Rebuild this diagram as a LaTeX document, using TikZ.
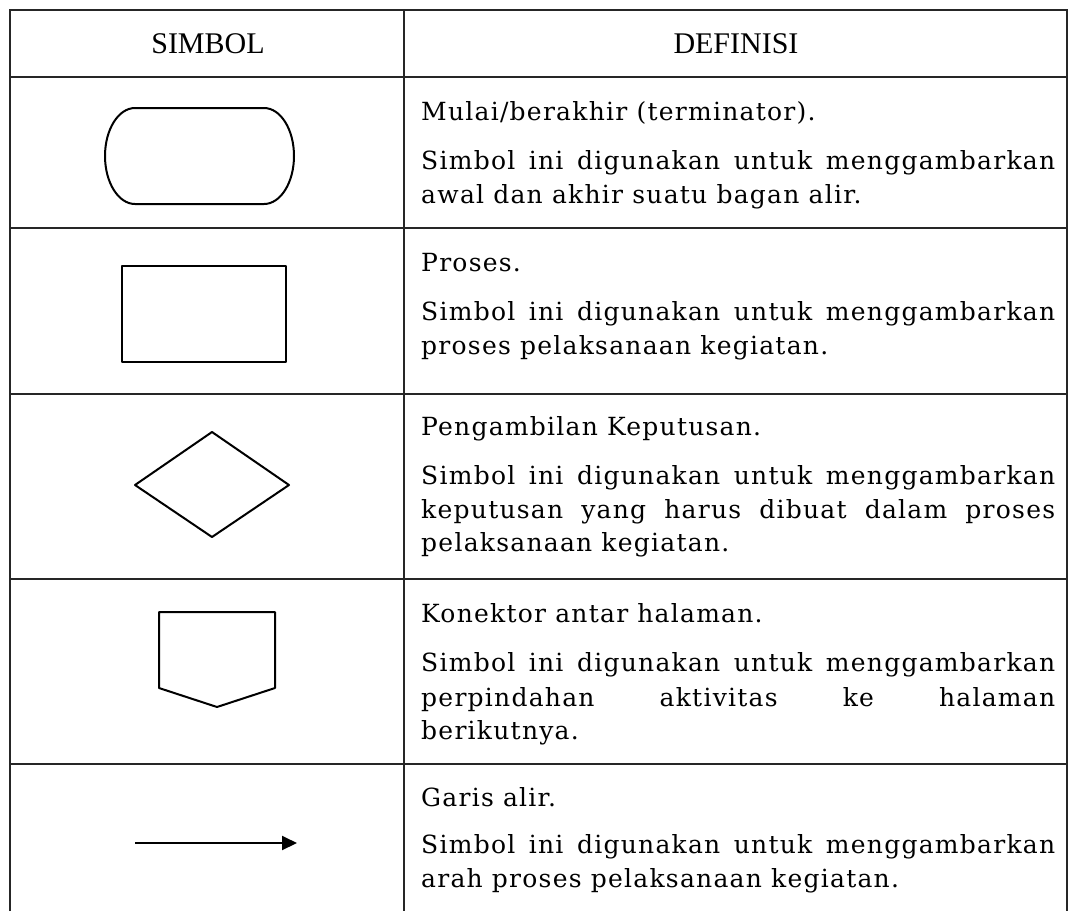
\documentclass[tikz,border=0pt]{standalone}
\usepackage{fontspec}
\setmainfont[LetterSpace=5]{DejaVu Serif}
\newfontfamily\headfont{Liberation Serif}
\usetikzlibrary{arrows.meta}
\newcommand\fulline[1]{\makebox[634pt][s]{#1}}
\begin{document}
\begin{tikzpicture}[x=1pt,y=-1pt,
  body/.style={anchor=base west, inner sep=0pt, font=\fontsize{25}{30}\selectfont},
  head/.style={inner sep=0pt, font=\headfont\fontsize{30}{36}\selectfont},
  rulel/.style={line width=1.5pt, draw=black!85},
  sym/.style={line width=2pt, line join=round}]
\useasboundingbox (0,0) rectangle (1069,911);
% table frame
\draw[rulel] (10,911) -- (10,10) -- (1067,10) -- (1067,911);
\draw[rulel] (404,10) -- (404,911);
\foreach \yy in {77,228,394,579,764} \draw[rulel] (10,\yy) -- (1067,\yy);
% headers
\node[head] (hs) at (208,44) {SIMBOL};
\node[head] (hd) at (736,44) {DEFINISI};
% row 1
\draw[sym] (135,108) -- (264,108) arc (-90:90:30 and 48) -- (135,204) arc (90:270:30 and 48) -- cycle;
\node[body] (t1a) at (421,120) {Mulai/berakhir (terminator).};
\node[body] (t1b) at (421,169) {\fulline{Simbol ini digunakan untuk menggambarkan}};
\node[body] (t1c) at (421,203) {awal dan akhir suatu bagan alir.};
% row 2
\draw[sym] (122,266) rectangle (286,362);
\node[body] (t2a) at (421,271) {Proses.};
\node[body] (t2b) at (421,320) {\fulline{Simbol ini digunakan untuk menggambarkan}};
\node[body] (t2c) at (421,354) {proses pelaksanaan kegiatan.};
% row 3
\draw[sym] (135,485) -- (212,432) -- (289,485) -- (212,537) -- cycle;
\node[body] (t3a) at (421,435) {Pengambilan Keputusan.};
\node[body] (t3b) at (421,484) {\fulline{Simbol ini digunakan untuk menggambarkan}};
\node[body] (t3c) at (421,518) {\fulline{keputusan yang harus dibuat dalam proses}};
\node[body] (t3d) at (421,551) {pelaksanaan kegiatan.};
% row 4
\draw[sym] (159,612) -- (275,612) -- (275,688) -- (217,707) -- (159,688) -- cycle;
\node[body] (t4a) at (421,622) {Konektor antar halaman.};
\node[body] (t4b) at (421,671) {\fulline{Simbol ini digunakan untuk menggambarkan}};
\node[body] (t4c) at (421,706) {\fulline{perpindahan aktivitas ke halaman}};
\node[body] (t4d) at (421,739) {berikutnya.};
% row 5
\coordinate (as) at (135,843);
\coordinate (ae) at (297,843);
\draw[sym, -{Triangle[length=15pt,width=14pt]}] (as) -- (ae);
\node[body] (t5a) at (421,806) {Garis alir.};
\node[body] (t5b) at (421,853) {\fulline{Simbol ini digunakan untuk menggambarkan}};
\node[body] (t5c) at (421,887) {arah proses pelaksanaan kegiatan.};
\end{tikzpicture}
\end{document}
